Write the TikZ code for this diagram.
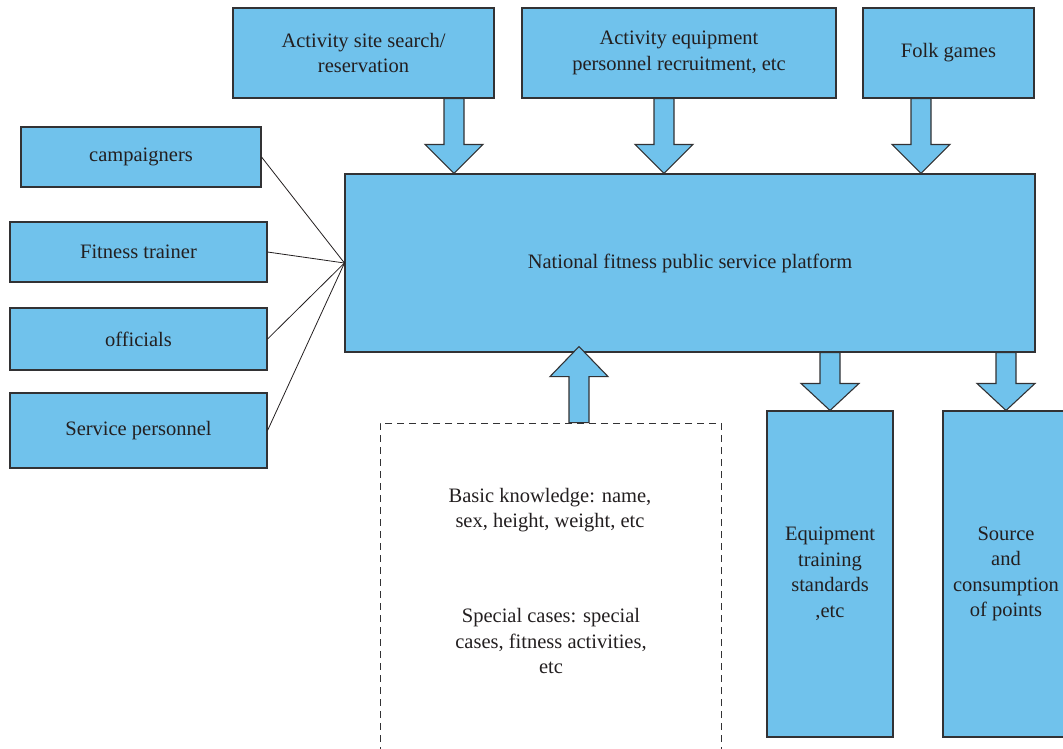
\documentclass[tikz,border=0pt]{standalone}
\usepackage{fontspec}
\setmainfont{Liberation Serif}
\usetikzlibrary{calc}
\definecolor{boxblue}{RGB}{112,194,236}
\definecolor{edgecol}{RGB}{50,50,52}
\definecolor{txtcol}{RGB}{35,31,32}
\newcommand{\barrow}[3]{\draw[blockarr] let \p1=#1, \p2=#2 in
  (\x1-10pt,\y1) -- (\x1-10pt,\y2+#3) -- (\x1-29pt,\y2+#3) -- (\x2,\y2) --
  (\x1+29pt,\y2+#3) -- (\x1+10pt,\y2+#3) -- (\x1+10pt,\y1) -- cycle;}
\tikzset{
  box/.style={draw=edgecol, fill=boxblue, line width=1.1pt, inner sep=0pt,
    text=txtcol, align=center, font=\fontsize{20.5}{25.5}\selectfont},
  plain/.style={text=txtcol, align=center, inner sep=0pt, font=\fontsize{20.5}{25.5}\selectfont},
  blockarr/.style={draw=edgecol, fill=boxblue, line width=1.1pt, line join=miter},
  link/.style={draw=txtcol, line width=0.8pt},
  dashbox/.style={draw=edgecol, line width=0.9pt, dash pattern=on 7pt off 5pt, inner sep=0pt}
}
\begin{document}
\begin{tikzpicture}[x=1pt,y=-1pt]
\useasboundingbox (0,0) rectangle (1063,748);
% top boxes
\node[box, minimum width=261pt, minimum height=90pt] (t1) at (363.5,53) {Activity site search/\\reservation};
\node[box, minimum width=314pt, minimum height=90pt] (t2) at (679,53) {Activity equipment\\personnel recruitment, etc};
\node[box, minimum width=171pt, minimum height=90pt] (t3) at (948.5,53) {Folk games};
% main
\node[box, minimum width=690pt, minimum height=178pt] (main) at (690,263) {National fitness public service platform};
% left boxes
\node[box, minimum width=240pt, minimum height=60pt] (l1) at (141,157) {campaigners};
\node[box, minimum width=257pt, minimum height=60pt] (l2) at (138.5,252) {Fitness trainer};
\node[box, minimum width=257pt, minimum height=62pt] (l3) at (138.5,339) {officials};
\node[box, minimum width=257pt, minimum height=75pt] (l4) at (138.5,430.5) {Service personnel};
% bottom right boxes
\node[box, minimum width=126pt, minimum height=326pt] (b1) at (830,574) {Equipment\\training\\standards\\,etc};
\node[box, minimum width=126pt, minimum height=326pt] (b2) at (1006,574) {Source\\and\\consumption\\of points};
% dashed box
\node[dashbox, minimum width=341pt, minimum height=350pt] (db) at (550.5,598) {};
\node[plain] (bk) at (550,510) {Basic knowledge: name,\\sex, height, weight, etc};
\node[plain] (sc) at (551,641) {Special cases: special\\cases, fitness activities,\\etc};
% links
\draw[link] (l1.east) -- (main.west);
\draw[link] (l2.east) -- (main.west);
\draw[link] (l3.east) -- (main.west);
\draw[link] (l4.east) -- (main.west);
% block arrows
\barrow{([xshift=90.5pt]t1.south)}{([xshift=90.5pt]t1.south |- main.north)}{29pt}
\barrow{([xshift=-15pt]t2.south)}{([xshift=-15pt]t2.south |- main.north)}{29pt}
\barrow{([xshift=-27.5pt]t3.south)}{([xshift=-27.5pt]t3.south |- main.north)}{29pt}
\barrow{(b1.north |- main.south)}{(b1.north)}{27pt}
\barrow{(b2.north |- main.south)}{(b2.north)}{27pt}
\barrow{([xshift=28.5pt]db.north)}{([xshift=28.5pt,yshift=6pt]db.north |- main.south)}{-30pt}
\end{tikzpicture}
\end{document}
